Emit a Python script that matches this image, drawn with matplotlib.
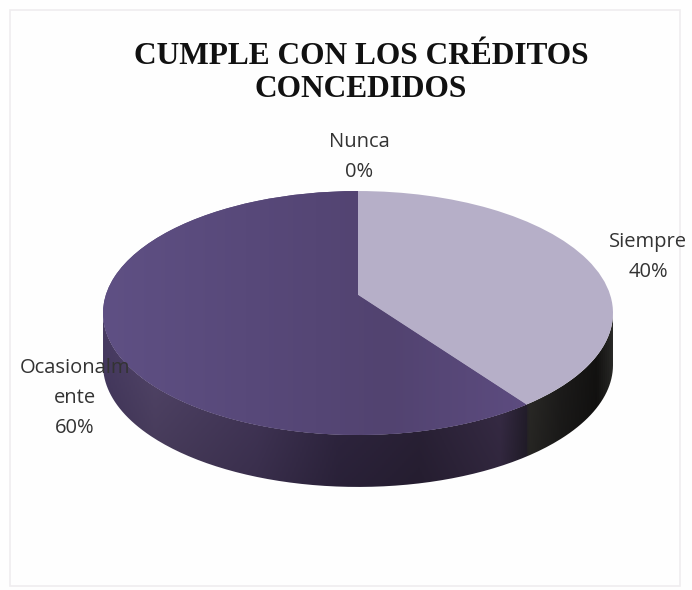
import matplotlib
matplotlib.use('Agg')
import matplotlib.pyplot as plt
import numpy as np
from matplotlib.colors import LinearSegmentedColormap
from matplotlib.patches import Rectangle
from matplotlib.path import Path
from matplotlib.transforms import Transform

labels = ['Siempre', 'Ocasionalmente', 'Nunca']
values = [40, 60, 0]
label_texts = ['Siempre\n40%', 'Ocasionalm\nente\n60%', 'Nunca\n0%']
title = 'CUMPLE CON LOS CRÉDITOS\nCONCEDIDOS'

W, H = 692, 590
CX, CY = 358, 295   # where the slices meet, in pixels
DEPTH = 52


class Perspective(Transform):
    # tilts the unit circle of the pie back so the near edge looks bigger
    input_dims = output_dims = 2

    def transform_non_affine(self, xy):
        xy = np.asarray(xy)
        d = 1 + 0.1475 * xy[:, 1]
        return np.c_[CX + 252.2 * xy[:, 0] / d, CY - 119.3 * xy[:, 1] / d]


persp = Perspective()

fig = plt.figure(figsize=(W / 100, H / 100), dpi=100, facecolor='#fefefe')
ax = fig.add_axes([0, 0, 1, 1])

top, _ = ax.pie(values, startangle=90, counterclock=False,
                colors=['#b6afc8', '#5b4b7c', '#333333'], radius=1)
ax.set_autoscale_on(False)
ax.set_aspect('auto')
ax.axis('off')

ax.add_patch(Rectangle((10, 10), 670, 576, fill=False, ec='#efedef', lw=1.2))

# side of the pie, shaded left to right and clipped to the outline
t = np.linspace(-0.42, np.pi + 0.42, 300)
rim = persp.transform(np.c_[np.cos(t), -np.sin(t)])
low = rim[np.argmax(rim[:, 0]):np.argmin(rim[:, 0]) + 1]
outline = np.r_[low + [0, DEPTH], low[::-1]]

side_cmap = LinearSegmentedColormap.from_list('side', [
    (0.00, '#4a3d66'), (0.10, '#57496f'), (0.30, '#4a3c62'), (0.46, '#362b49'),
    (0.62, '#30263e'), (0.78, '#3e314e'), (0.833, '#272130'), (0.836, '#2f2e2b'),
    (0.90, '#1f1e1d'), (0.97, '#141312'), (1.00, '#2a2a28')])
xs = np.linspace(0, 1, 512)
rows = np.linspace(1, 0.75, 80)
shade = side_cmap(xs)[:, :3][None, :, :] * rows[:, None, None]
img = ax.imshow(shade, extent=(103, 613, 500, 300), aspect='auto', zorder=1)
img.set_clip_path(Path(outline), ax.transData)

for w in top:
    w.set_transform(persp + ax.transData)
    w.set_zorder(3)
    w.set_linewidth(0)

# soft light on the purple slice
purple_cmap = LinearSegmentedColormap.from_list('purple', ['#5f5084', '#58497a', '#524370', '#5d4c80'])
light = ax.imshow(np.linspace(0, 1, 256).reshape(1, -1), extent=(103, 530, 440, 190),
                  cmap=purple_cmap, aspect='auto', zorder=3.5)
light.set_clip_path(top[1].get_path().transformed(top[1].get_patch_transform()),
                    persp + ax.transData)
ax.set_xlim(0, W)
ax.set_ylim(H, 0)

font = ['Open Sans', 'DejaVu Sans']
for txt, x, y in zip(label_texts, [648, 75, 359], [257, 398, 157]):
    ax.text(x, y, txt, ha='center', va='center', fontsize=14.5, family=font,
            color='#333333', zorder=5, linespacing=1.68)
ax.text(361, 73, title, ha='center', va='center', fontsize=22.6,
        family='Liberation Serif', fontweight='bold', color='#111111', zorder=5,
        linespacing=1.14)

fig.savefig('out.png', dpi=100, facecolor=fig.get_facecolor())
